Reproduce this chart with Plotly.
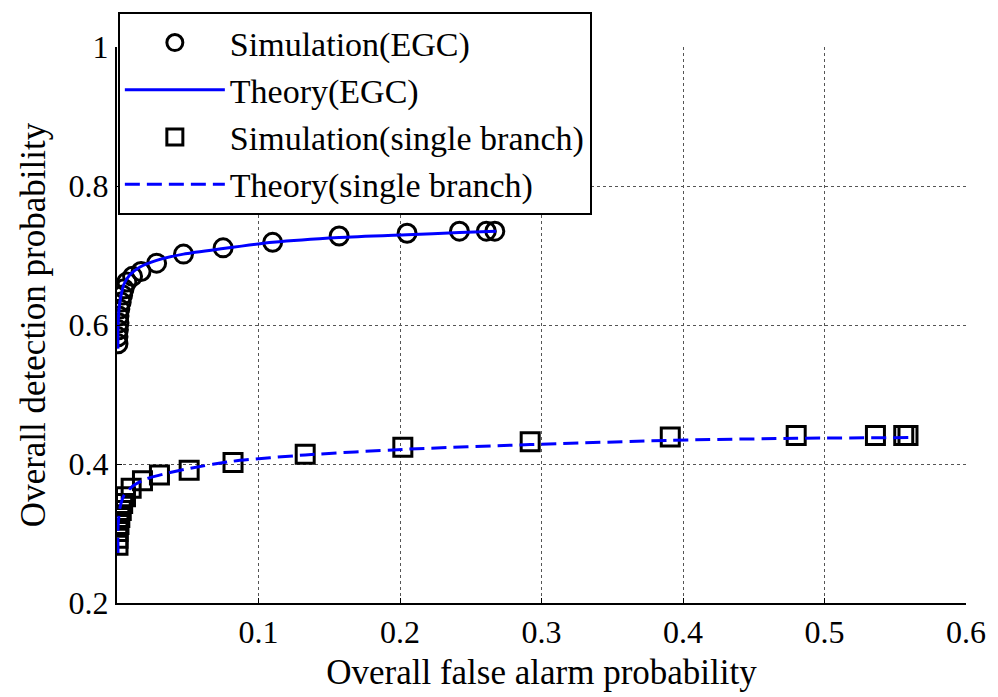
import plotly.graph_objects as go

# Simulation (EGC): open circles
egc_sim_x = [0.0007, 0.0007, 0.001, 0.0014, 0.0014, 0.002, 0.003, 0.004, 0.005, 0.007,
             0.011, 0.017, 0.028, 0.047, 0.075, 0.110, 0.157, 0.205, 0.242, 0.261, 0.267]
egc_sim_y = [0.573, 0.583, 0.593, 0.603, 0.613, 0.623, 0.633, 0.643, 0.652, 0.662,
             0.670, 0.677, 0.689, 0.702, 0.711, 0.719, 0.728, 0.732, 0.735, 0.735, 0.735]

# Theory (EGC): solid line
egc_th_x = [0.0007, 0.0007, 0.0014, 0.003, 0.005, 0.009, 0.016, 0.028, 0.047, 0.075,
            0.110, 0.157, 0.205, 0.242, 0.268]
egc_th_y = [0.566, 0.594, 0.623, 0.644, 0.659, 0.672, 0.683, 0.693, 0.702, 0.710,
            0.719, 0.726, 0.730, 0.733, 0.735]

# Simulation (single branch): open squares
sb_sim_x = [0.0007, 0.0007, 0.0007, 0.0014, 0.002, 0.003, 0.004, 0.006, 0.010, 0.018,
            0.030, 0.051, 0.082, 0.133, 0.202, 0.292, 0.391, 0.480, 0.536, 0.556, 0.559]
sb_sim_y = [0.283, 0.293, 0.303, 0.313, 0.323, 0.333, 0.343, 0.353, 0.365, 0.376,
            0.384, 0.391, 0.402, 0.414, 0.424, 0.432, 0.439, 0.441, 0.441, 0.441, 0.441]

# Theory (single branch): dashed line
sb_th_x = [0.0007, 0.0007, 0.002, 0.005, 0.011, 0.020, 0.034, 0.052, 0.082, 0.133,
           0.202, 0.292, 0.391, 0.480, 0.560]
sb_th_y = [0.272, 0.308, 0.336, 0.355, 0.368, 0.378, 0.386, 0.394, 0.404, 0.413,
           0.421, 0.428, 0.434, 0.437, 0.438]

x_ticks = [0.1, 0.2, 0.3, 0.4, 0.5, 0.6]
x_tick_text = ["0.1", "0.2", "0.3", "0.4", "0.5", "0.6"]
y_ticks = [0.2, 0.4, 0.6, 0.8, 1.0]
y_tick_text = ["0.2", "0.4", "0.6", "0.8", "1"]

FONT = "Liberation Serif"

fig = go.Figure()
fig.add_trace(go.Scatter(
    x=egc_sim_x, y=egc_sim_y, mode="markers", name="Simulation(EGC)",
    marker=dict(symbol="circle-open", size=18, color="black", line=dict(width=3, color="black")),
))
fig.add_trace(go.Scatter(
    x=egc_th_x, y=egc_th_y, mode="lines", name="Theory(EGC)",
    line=dict(color="#0000FF", width=3, shape="spline", smoothing=0.6),
))
fig.add_trace(go.Scatter(
    x=sb_sim_x, y=sb_sim_y, mode="markers", name="Simulation(single branch)",
    marker=dict(symbol="square-open", size=18, color="black", line=dict(width=3, color="black")),
))
fig.add_trace(go.Scatter(
    x=sb_th_x, y=sb_th_y, mode="lines", name="Theory(single branch)",
    line=dict(color="#0000FF", width=3, dash="15px,7px", shape="spline", smoothing=0.6),
))

fig.update_layout(
    width=998, height=697,
    margin=dict(l=117, r=31, t=47, b=92),
    paper_bgcolor="white", plot_bgcolor="white",
    font=dict(family=FONT, size=30, color="black"),
    showlegend=True,
    legend=dict(
        x=0.001, y=1.063, xanchor="left", yanchor="top",
        bgcolor="white", bordercolor="black", borderwidth=2,
        font=dict(family=FONT, size=34, color="black"),
        itemwidth=100, tracegroupgap=0,
    ),
    xaxis=dict(
        range=[0, 0.6], tickvals=x_ticks, ticktext=x_tick_text,
        showline=True, linecolor="black", linewidth=2,
        showgrid=True, gridcolor="#555555", griddash="dot", gridwidth=1,
        ticks="inside", ticklen=5, tickcolor="black",
        zeroline=False,
        tickfont=dict(family=FONT, size=32),
        title=dict(text="Overall false alarm probability", font=dict(family=FONT, size=35), standoff=10),
    ),
    yaxis=dict(
        range=[0.2, 1.0], tickvals=y_ticks, ticktext=y_tick_text,
        showline=True, linecolor="black", linewidth=2,
        showgrid=True, gridcolor="#555555", griddash="dot", gridwidth=1,
        ticks="inside", ticklen=5, tickcolor="black",
        zeroline=False,
        tickfont=dict(family=FONT, size=32),
        title=dict(text="Overall detection probability", font=dict(family=FONT, size=35), standoff=12),
    ),
)

fig.write_html("out.html")
